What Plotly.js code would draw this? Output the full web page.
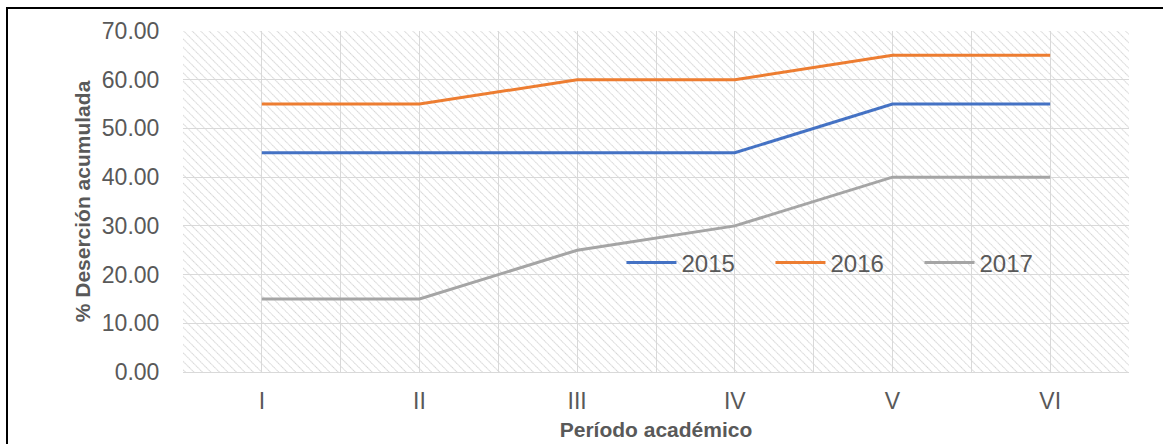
<!DOCTYPE html>
<html>
<head>
<meta charset="utf-8">
<script src="https://cdn.plot.ly/plotly-3.0.1.min.js"></script>
<style>
html,body{margin:0;padding:0;background:#fff;overflow:hidden;}
#wrap{position:relative;width:1163px;height:444px;}
#chart{width:1163px;height:444px;}
#frame{position:absolute;left:6px;top:7px;width:1160px;height:450px;border:2px solid #000;box-sizing:border-box;pointer-events:none;}
</style>
</head>
<body>
<div id="wrap"><div id="chart"></div><div id="frame"></div></div>
<script>
const periods = ["I", "II", "III", "IV", "V", "VI"];
const seriesNames = ["2015", "2016", "2017"];
const values2015 = [45, 45, 45, 45, 55, 55];
const values2016 = [55, 55, 60, 60, 65, 65];
const values2017 = [15, 15, 25, 30, 40, 40];
const yTicks = [0, 10, 20, 30, 40, 50, 60, 70];
const colors = ["#4472C4", "#ED7D31", "#A5A5A5"];

const seriesValues = [values2015, values2016, values2017];
const xIdx = periods.map((p, i) => i);

const traces = seriesValues.map((vals, k) => ({
  type: "scatter",
  mode: "lines",
  name: seriesNames[k],
  x: xIdx,
  y: vals,
  line: {color: colors[k], width: 3},
  hoverinfo: "skip"
}));

const W = 946, H = 341;
const svg = `<svg xmlns="http://www.w3.org/2000/svg" width="${W}" height="${H}"><defs><pattern id="p" patternUnits="userSpaceOnUse" width="6" height="6" patternTransform="rotate(-45)"><line x1="0" y1="0" x2="0" y2="6" stroke="#d4d4d4" stroke-width="2" stroke-dasharray="1.4 0.7"/></pattern></defs><rect width="${W}" height="${H}" fill="#fff"/><rect width="${W}" height="${H}" fill="url(#p)"/></svg>`;
const svgUri = "data:image/svg+xml;base64," + btoa(svg);

const font = "Liberation Sans, Arial, sans-serif";
const layout = {
  width: 1163, height: 444,
  margin: {l: 183, r: 34, t: 31, b: 72},
  paper_bgcolor: "#fff",
  plot_bgcolor: "rgba(0,0,0,0)",
  font: {family: font, color: "#595959", size: 23},
  showlegend: true,
  legend: {
    orientation: "h",
    x: 0.4635, y: 0.32, xanchor: "left", yanchor: "middle",
    bgcolor: "rgba(0,0,0,0)",
    font: {family: font, size: 24, color: "#595959"},
    entrywidth: 84, entrywidthmode: "pixels",
    itemwidth: 50
  },
  images: [{
    source: svgUri, xref: "paper", yref: "paper",
    x: 0, y: 1, sizex: 1, sizey: 1, sizing: "stretch", layer: "below"
  }],
  xaxis: {
    type: "linear",
    range: [-0.5, 5.5],
    tickmode: "array",
    tickvals: xIdx,
    ticktext: periods,
    showgrid: true, gridcolor: "#d9d9d9", gridwidth: 1,
    minor: {tickmode: "linear", tick0: -0.5, dtick: 1, showgrid: true, gridcolor: "#d9d9d9", gridwidth: 1},
    showline: true, linecolor: "#d9d9d9", linewidth: 1,
    zeroline: false,
    ticks: "outside", ticklen: 8, tickcolor: "rgba(0,0,0,0)",
    tickfont: {family: font, size: 23, color: "#595959"},
    fixedrange: true,
    title: {text: "<b>Período académico</b>", font: {family: font, size: 21, color: "#595959"}, standoff: 9}
  },
  yaxis: {
    range: [0, 70],
    tickmode: "array",
    tickvals: yTicks,
    tickformat: ".2f",
    showgrid: true, gridcolor: "#d9d9d9", gridwidth: 1,
    zeroline: false, showline: false,
    ticks: "outside", ticklen: 18, tickcolor: "rgba(0,0,0,0)",
    tickfont: {family: font, size: 23, color: "#595959"},
    fixedrange: true,
    title: {text: "<b>% Deserción acumulada</b>", font: {family: font, size: 21, color: "#595959"}, standoff: 5}
  }
};

Plotly.newPlot("chart", traces, layout, {displayModeBar: false, staticPlot: true});
</script>
</body>
</html>
